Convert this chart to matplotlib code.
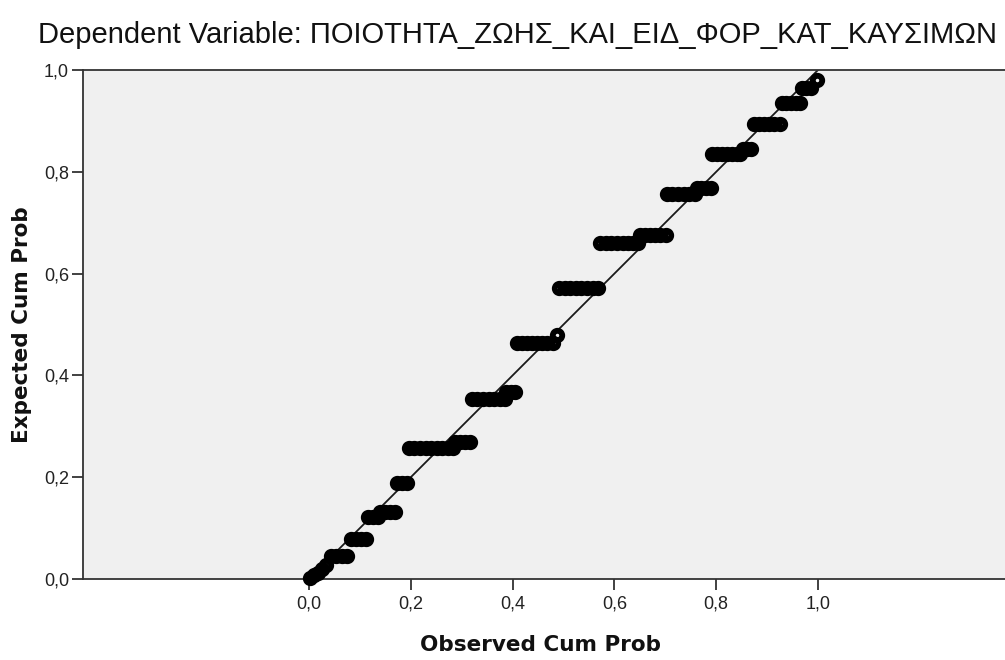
import matplotlib
matplotlib.use('Agg')
import matplotlib.pyplot as plt
from matplotlib.ticker import FuncFormatter

title = 'Dependent Variable: ΠΟΙΟΤΗΤΑ_ΖΩΗΣ_ΚΑΙ_ΕΙΔ_ΦΟΡ_ΚΑΤ_ΚΑΥΣΙΜΩΝ'
x_label = 'Observed Cum Prob'
y_label = 'Expected Cum Prob'
ticks = [0.0, 0.2, 0.4, 0.6, 0.8, 1.0]

# P-P plot points: (expected cum prob, observed cum probs)
bottom_obs = [0.002, 0.010, 0.018, 0.026, 0.033]
bottom_exp = [0.002, 0.008, 0.012, 0.020, 0.027]
levels = [
    (0.045, [0.043, 0.053, 0.064, 0.075]),
    (0.079, [0.083, 0.093, 0.103, 0.112]),
    (0.122, [0.116, 0.126, 0.135]),
    (0.131, [0.139, 0.149, 0.159, 0.169]),
    (0.189, [0.173, 0.183, 0.193]),
    (0.257, [0.196, 0.207, 0.218, 0.229, 0.240, 0.251, 0.262, 0.273, 0.283]),
    (0.269, [0.287, 0.297, 0.307, 0.316]),
    (0.354, [0.320, 0.331, 0.342, 0.353, 0.364, 0.375, 0.385]),
    (0.367, [0.388, 0.397, 0.405]),
    (0.463, [0.408, 0.418, 0.428, 0.438, 0.448, 0.458, 0.468, 0.480]),
    (0.479, [0.487]),
    (0.572, [0.491, 0.502, 0.513, 0.524, 0.535, 0.546, 0.557, 0.568]),
    (0.660, [0.572, 0.583, 0.594, 0.605, 0.616, 0.627, 0.637, 0.646]),
    (0.676, [0.650, 0.660, 0.670, 0.680, 0.690, 0.701]),
    (0.756, [0.703, 0.714, 0.725, 0.736, 0.747, 0.758]),
    (0.768, [0.762, 0.771, 0.780, 0.790]),
    (0.835, [0.792, 0.802, 0.812, 0.822, 0.832, 0.840, 0.847]),
    (0.845, [0.852, 0.860, 0.868]),
    (0.894, [0.874, 0.884, 0.894, 0.904, 0.914, 0.925]),
    (0.935, [0.929, 0.938, 0.947, 0.956, 0.965]),
    (0.965, [0.968, 0.977, 0.986]),
    (0.980, [0.998]),
]

obs = list(bottom_obs)
exp = list(bottom_exp)
for y, xs in levels:
    obs += xs
    exp += [y] * len(xs)

fig = plt.figure(figsize=(10.05, 6.6), dpi=100)
ax = fig.add_axes([83 / 1005, 81 / 660, 1 - 83 / 1005, 509 / 660])
ax.set_facecolor('#f0f0f0')

ax.plot([0, 1], [0, 1], color='#1a1a1a', lw=1.3, zorder=2)
ax.plot(obs, exp, linestyle='none', marker='o', markersize=6.8,
        markerfacecolor='none', markeredgecolor='black', markeredgewidth=4.2,
        zorder=3, clip_on=False)

# x range so that 0 sits 226 px right of the left spine, 509 px per unit
ax.set_xlim(-226 / 509, -226 / 509 + 922 / 509)
ax.set_ylim(0, 1)
ax.set_xticks(ticks)
ax.set_yticks(ticks)
fmt = FuncFormatter(lambda v, p: f'{v:.1f}'.replace('.', ','))
ax.xaxis.set_major_formatter(fmt)
ax.yaxis.set_major_formatter(fmt)
ax.tick_params(direction='out', length=8, width=1.3, color='#333333',
               labelsize=13, labelcolor='#222222')
ax.tick_params(axis='y', pad=2)
ax.tick_params(axis='x', pad=4)
for lab in ax.get_xticklabels() + ax.get_yticklabels():
    lab.set_family('Liberation Sans')

for side in ['left', 'top', 'bottom']:
    ax.spines[side].set_color('#333333')
    ax.spines[side].set_linewidth(1.3)
ax.spines['right'].set_visible(False)

fig.text(517 / 1005, 1 - 35 / 660, title, ha='center', va='center',
         fontsize=21, family='Liberation Sans', color='#111111')
fig.text(540 / 1005, 1 - 645 / 660, x_label, ha='center', va='center',
         fontsize=15.5, fontweight='bold', family='DejaVu Sans', color='#111111')
fig.text(22 / 1005, 1 - 325 / 660, y_label, ha='center', va='center', rotation=90,
         fontsize=15.5, fontweight='bold', family='DejaVu Sans', color='#111111')

fig.savefig('out.png', dpi=100)
